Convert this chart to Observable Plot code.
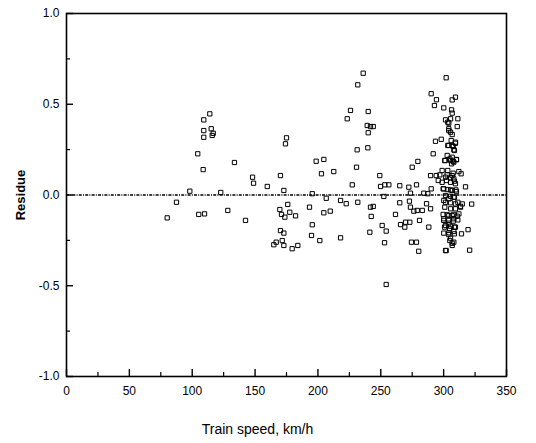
<!DOCTYPE html>
<html>
<head>
<meta charset="utf-8">
<script src="https://cdn.jsdelivr.net/npm/d3@7"></script>
<script src="https://cdn.jsdelivr.net/npm/@observablehq/plot@0.6"></script>
<style>
  html, body { margin: 0; padding: 0; background: #fff; }
  #chart svg { display: block; font-family: "Liberation Sans", Arial, sans-serif; }
</style>
</head>
<body>
<div id="chart"></div>
<script>
// Train speed (km/h) and residue values
const speed = [
  80.1, 87.5, 98.1, 104.4, 105.2, 108.7, 109.2, 109.2, 109.2, 109.8,
  114.0, 115.1, 115.9, 116.7, 122.7, 128.3, 133.6, 142.4, 148.0, 148.8,
  159.7, 164.9, 166.8, 169.7, 170.2, 170.2, 171.0, 171.6, 172.9, 172.9,
  172.9, 173.7, 174.2, 175.0, 176.0, 177.6, 179.5, 182.2, 184.0, 193.3,
  194.9, 195.5, 195.5, 198.6, 201.5, 202.8, 204.7, 204.7, 206.6, 209.8,
  212.6, 218.0, 218.0, 222.5, 223.3, 225.9, 227.3,
  230.7, 231.2, 231.7, 231.7, 236.0, 239.2, 239.7, 240.0, 240.0, 241.3,
  241.8, 241.8, 242.4, 244.0, 244.0, 249.2, 249.8, 251.1, 252.4, 253.0,
  253.2, 254.3, 254.3, 256.4, 261.7, 265.1, 265.1, 265.7, 269.1, 269.7,
  272.3, 272.8, 273.1, 273.6, 273.6, 274.4, 275.0, 276.3, 278.4, 278.4,
  279.0, 279.5, 280.2, 280.8, 283.0, 284.2, 286.4, 287.4, 288.2, 289.6,
  289.6, 290.1, 290.1, 291.7, 292.7, 293.5, 294.1, 294.3, 295.7, 297.0,
  298.1,
  302.0, 302.0, 300.1, 309.4, 306.8, 306.3, 306.8, 301.5, 305.5, 311.3,
  304.1, 310.8, 304.1, 306.8, 306.0, 309.4, 304.1, 307.6, 308.6, 300.9,
  304.9, 307.6, 310.2, 306.3, 312.1, 313.9, 302.8, 307.6, 298.8, 302.3,
  305.5, 308.6, 317.4, 300.1, 305.5, 309.7, 300.1, 304.1, 308.1, 311.3,
  314.8, 322.3, 300.9, 305.5, 309.4, 313.4, 299.6, 304.1, 308.1, 312.1,
  300.1, 304.1, 307.6, 311.3, 300.7, 304.7, 308.6, 319.4, 300.1, 304.1,
  308.6, 314.2, 304.9, 306.8, 320.7,
  298.8, 303.3, 306.8, 301.5, 308.1, 305.5, 309.4, 299.6, 303.3, 306.8,
  310.2, 301.5, 305.5, 308.6, 301.5, 305.5, 309.4, 313.4, 302.8, 306.8,
  310.8, 300.1, 304.1, 308.1, 301.5, 305.5, 309.4, 304.1, 308.1, 305.5,
  308.1, 306.8, 301.5,
  303.3, 304.1, 305.5, 309.4, 303.3, 306.8, 308.1, 302.8, 306.8, 301.2,
  305.5, 308.1, 310.2
];
const residue = [
  -0.126, -0.040, 0.021, 0.227, -0.107, 0.140, 0.414, 0.355, 0.318, -0.104,
  0.447, 0.365, 0.328, 0.340, 0.014, -0.085, 0.179, -0.140, 0.098, 0.065,
  0.047, -0.274, -0.260, -0.080, 0.107, -0.196, -0.107, -0.251, 0.025, -0.210,
  -0.278, -0.122, 0.282, 0.315, -0.052, -0.095, -0.296, -0.115, -0.278, -0.067,
  -0.223, 0.007, -0.164, 0.186, -0.251, 0.117, 0.196, -0.098, -0.018, -0.089,
  0.129, -0.030, -0.236, -0.048, 0.420, 0.466, 0.056,
  0.153, 0.249, 0.607, -0.040, 0.671, 0.383, 0.260, 0.460, 0.343, -0.205,
  0.377, -0.067, -0.118, 0.377, -0.063, 0.107, 0.047, -0.168, -0.008, -0.263,
  0.056, -0.199, -0.493, 0.056, -0.107, 0.051, -0.043, -0.163, -0.177, -0.150,
  0.043, -0.034, -0.150, 0.010, -0.067, -0.260, 0.153, -0.089, 0.056, -0.260,
  -0.085, 0.185, -0.310, -0.140, -0.085, 0.010, -0.048, 0.007, -0.177, 0.107,
  -0.076, 0.558, 0.034, 0.227, 0.493, 0.296, 0.107, 0.525, 0.080, 0.111,
  0.307,
  0.646, -0.306, 0.480, 0.539, 0.524, 0.469, 0.451, 0.414, 0.420, 0.420,
  0.396, 0.377, 0.355, 0.333, 0.300, 0.285, 0.273, 0.267, 0.245, 0.190,
  0.199, 0.186, 0.196, 0.172, 0.129, 0.117, 0.111, 0.120, 0.070, 0.080,
  0.095, 0.076, 0.045, 0.034, 0.028, 0.028, -0.030, -0.021, -0.012, -0.040,
  -0.049, -0.050, -0.067, -0.076, -0.076, -0.067, -0.107, -0.113, -0.107, -0.104,
  -0.140, -0.155, -0.144, -0.137, -0.177, -0.186, -0.177, -0.191, -0.210, -0.218,
  -0.214, -0.214, -0.251, -0.266, -0.304,
  0.135, 0.135, 0.107, 0.098, 0.089, 0.070, 0.062, 0.034, 0.030, 0.025,
  0.019, -0.003, -0.007, -0.012, -0.040, -0.043, -0.049, -0.062, -0.109, -0.113,
  -0.117, -0.131, -0.140, -0.131, -0.168, -0.172, -0.177, -0.208, -0.201, -0.238,
  -0.260, -0.278, -0.306,
  0.401, 0.365, 0.346, 0.291, 0.273, 0.273, 0.249, 0.218, 0.208, 0.190,
  0.190, 0.181, 0.194
];

const xMajorTicks = [0, 50, 100, 150, 200, 250, 300, 350];
const xMinorTicks = [25, 75, 125, 175, 225, 275, 325];
const yMajorTicks = [-1.0, -0.5, 0.0, 0.5, 1.0];
const yMinorTicks = [-0.75, -0.25, 0.25, 0.75];
const zeroLine = [0];
const xLabel = "Train speed, km/h";
const yLabel = "Residue";

const points = speed.map((s, i) => ({speed: s, residue: residue[i]}));

const W = 536, H = 443;
const mL = 66, mR = 30, mT = 13, mB = 67;
const frameW = W - mL - mR, frameH = H - mT - mB;
const majorLen = 7, minorLen = 4;

const chart = Plot.plot({
  width: W,
  height: H,
  marginLeft: mL,
  marginRight: mR,
  marginTop: mT,
  marginBottom: mB,
  style: {fontFamily: "Liberation Sans, Arial, sans-serif", fontSize: "12px", color: "black", background: "white"},
  x: {domain: [0, 350]},
  y: {domain: [-1, 1]},
  marks: [
    Plot.ruleY(zeroLine, {stroke: "black", strokeWidth: 1.3, strokeDasharray: "3,1.2,1,1.2"}),
    Plot.dot(points, {x: "speed", y: "residue", symbol: "square", r: 2.4, stroke: "black", strokeWidth: 1, fill: "none"}),
    // inward ticks
    Plot.tickX(xMajorTicks, {x: d => d, insetTop: frameH - majorLen, stroke: "black", strokeWidth: 1.4}),
    Plot.tickX(xMinorTicks, {x: d => d, insetTop: frameH - minorLen, stroke: "black", strokeWidth: 1.2}),
    Plot.tickY(yMajorTicks, {y: d => d, insetRight: frameW - majorLen, stroke: "black", strokeWidth: 1.4}),
    Plot.tickY(yMinorTicks, {y: d => d, insetRight: frameW - minorLen, stroke: "black", strokeWidth: 1.2}),
    // tick labels
    Plot.axisX({ticks: xMajorTicks, tickSize: 0, tickPadding: 10, tickFormat: d => String(d), label: null, fontSize: 12}),
    Plot.axisY({ticks: yMajorTicks, tickSize: 0, tickPadding: 7, tickFormat: d => d.toFixed(1), label: null, fontSize: 12}),
    Plot.frame({stroke: "black", strokeWidth: 1.6}),
    Plot.text([xLabel], {frameAnchor: "bottom", text: d => d, textAnchor: "middle", dx: -29, dy: 57, fontSize: 14, fill: "black"}),
    Plot.text([yLabel], {frameAnchor: "left", text: d => d, textAnchor: "middle", rotate: -90, dx: -46, fontSize: 13, fontWeight: "bold", fill: "black"})
  ]
});
document.getElementById("chart").appendChild(chart);
</script>
</body>
</html>
